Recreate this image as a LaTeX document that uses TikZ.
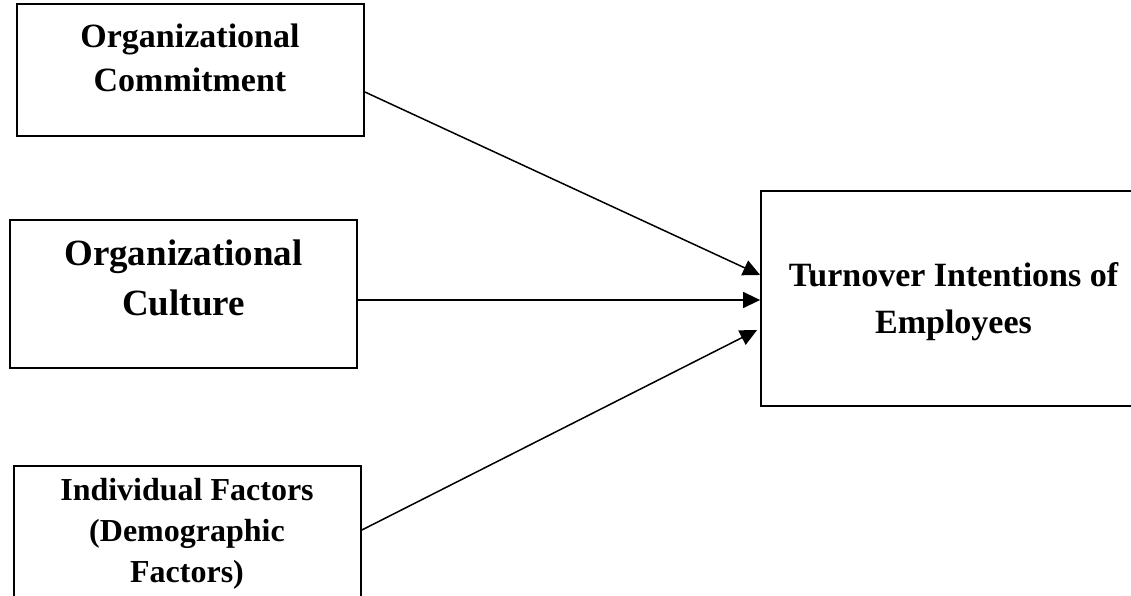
\documentclass[tikz,border=0pt]{standalone}
\usepackage{fontspec}
\setmainfont{Liberation Serif}
\usetikzlibrary{arrows.meta}
\begin{document}
\begin{tikzpicture}[x=1pt,y=1pt,
  box/.style={draw=black, line width=1.8pt, inner sep=0pt},
  txt/.style={align=center, font=\bfseries},
  link/.style={line width=1.5pt, -{Triangle[length=17pt,width=16pt]}}]
\useasboundingbox (0,0) rectangle (1131,596);
% boxes
\node[box, minimum width=347, minimum height=132] (commit) at (190.5,526) {};
\node[box, minimum width=347, minimum height=148] (culture) at (183.5,302) {};
\node[box, minimum width=347, minimum height=144] (indiv) at (187.5,58) {};
\node[box, minimum width=384, minimum height=215] (turn) at (953,297.5) {};
% texts
\node[txt, font=\fontsize{34}{44}\selectfont\bfseries] (commitT) at (190,538) {Organizational\\Commitment};
\node[txt, font=\fontsize{37}{50}\selectfont\bfseries] (cultureT) at (183.5,318) {Organizational\\Culture};
\node[txt, font=\fontsize{32}{41}\selectfont\bfseries] (indivT) at (187,62) {Individual Factors\\(Demographic\\Factors)};
\node[txt, font=\fontsize{34}{47}\selectfont\bfseries] (turnT) at (953.5,294.5) {Turnover Intentions of\\Employees};
% arrows
\draw[link] ([yshift=-22]commit.east) -- ([yshift=23.5]turn.west);
\draw[link] ([yshift=-6]culture.east) -- ([yshift=-6]culture.east -| turn.west);
\draw[link] ([yshift=8]indiv.east) -- ([xshift=-3,yshift=-31.5]turn.west);
\end{tikzpicture}
\end{document}
